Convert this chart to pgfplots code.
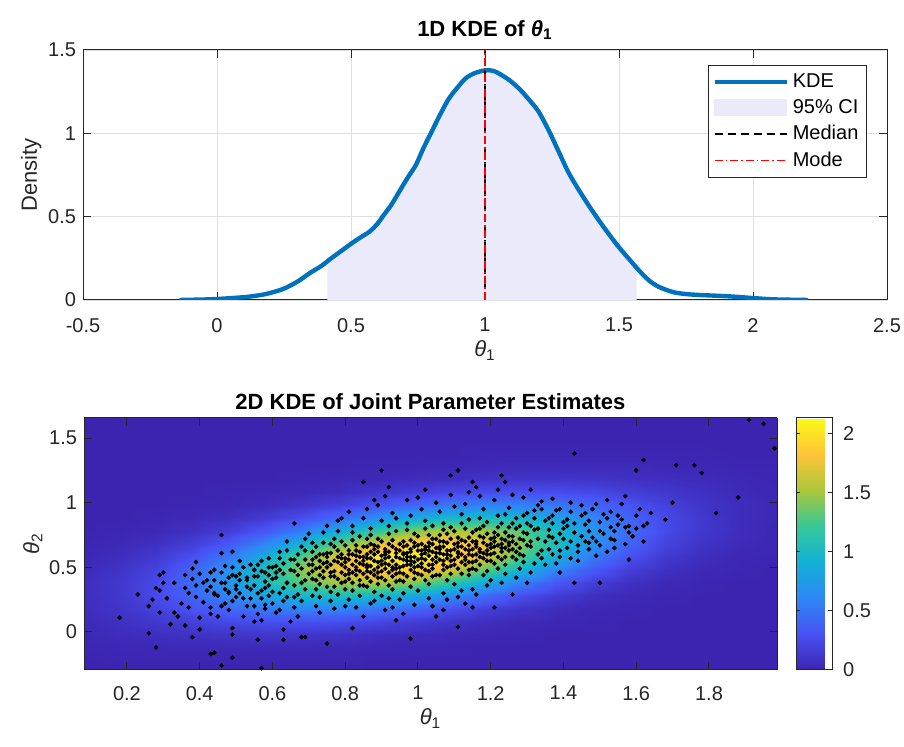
\documentclass[border=0pt]{standalone}
\usepackage{pgfplots}
\pgfplotsset{compat=1.18}
\usepackage{fontspec}
\setmainfont{Liberation Sans}
\definecolor{axgray}{RGB}{38,38,38}
\definecolor{kdeblue}{RGB}{0,114,189}
\definecolor{cifill}{RGB}{234,234,250}
\definecolor{gridgray}{RGB}{223,223,223}
\pgfplotsset{
  every axis/.append style={
    /pgf/number format/assume math mode=true,
    tick label style={font=\fontsize{10}{12}\selectfont, color=axgray},
    label style={font=\fontsize{11}{13}\selectfont, color=axgray},
    title style={font=\fontsize{11}{13}\selectfont\bfseries},
    axis line style={axgray, line width=0.5pt},
    tick style={axgray, line width=0.5pt},
    major tick length=4pt,
    tick align=inside,
  }
}
\begin{document}
\begin{tikzpicture}
\path[use as bounding box] (0,0) rectangle (452pt,373.5pt);
% ---------------- top: 1D KDE ----------------
\begin{axis}[
  at={(41.5pt,223.5pt)}, anchor=south west,
  width=402pt, height=125pt, scale only axis,
  xmin=-0.5, xmax=2.5, ymin=0, ymax=1.5,
  xtick={-0.5,0,0.5,1,1.5,2,2.5}, ytick={0,0.5,1,1.5},
  xticklabel style={yshift=-5.5pt},
  xlabel style={yshift=2.5pt},
  ylabel style={yshift=-3.5pt},
  title style={yshift=-4.5pt},
  xmajorgrids, ymajorgrids, grid style={gridgray, line width=0.4pt},
  title={1D KDE of \textit{θ}\textsubscript{1}},
  xlabel={\textit{θ}\textsubscript{1}}, ylabel={Density},
  legend style={at={(0.975,0.94)}, anchor=north east, draw=axgray, line width=0.5pt,
    font=\fontsize{10}{12}\selectfont, inner sep=2pt, row sep=0.5pt},
  legend cell align=left,
  legend image code/.code={\draw[#1] (0pt,0pt) -- (36pt,0pt);},
]
\addplot[fill=cifill, draw=none, forget plot] coordinates {
(0.412,0) (0.412,0.232) (0.426,0.25) (0.46,0.29) (0.494,0.33) (0.53,0.37) (0.569,0.41)
(0.60,0.46) (0.618,0.50) (0.65,0.57) (0.68,0.65) (0.71,0.73) (0.742,0.81) (0.77,0.91)
(0.804,1.02) (0.835,1.12) (0.866,1.21) (0.90,1.28) (0.928,1.33) (0.96,1.36) (1.00,1.378)
(1.03,1.375) (1.051,1.36) (1.09,1.32) (1.126,1.27) (1.16,1.21) (1.20,1.13) (1.24,1.01)
(1.275,0.89) (1.31,0.77) (1.35,0.66) (1.39,0.56) (1.424,0.48) (1.46,0.40) (1.498,0.32)
(1.535,0.25) (1.566,0.193) (1.566,0)} \closedcycle;
\addplot[kdeblue, line width=2.2pt, smooth] coordinates {
(-0.14,0.000) (-0.05,0.003) (0.00,0.006) (0.06,0.012) (0.12,0.020) (0.18,0.035)
(0.245,0.065) (0.30,0.11) (0.345,0.16) (0.39,0.205) (0.426,0.25) (0.46,0.29)
(0.494,0.33) (0.53,0.37) (0.569,0.41) (0.60,0.46) (0.618,0.50) (0.65,0.57) (0.68,0.65)
(0.71,0.73) (0.742,0.81) (0.77,0.91) (0.804,1.02) (0.835,1.12) (0.866,1.21) (0.90,1.28)
(0.928,1.33) (0.96,1.36) (1.00,1.378) (1.03,1.375) (1.051,1.36) (1.09,1.32) (1.126,1.27)
(1.16,1.21) (1.20,1.13) (1.24,1.01) (1.275,0.89) (1.31,0.77) (1.35,0.66) (1.39,0.56)
(1.424,0.48) (1.46,0.40) (1.498,0.32) (1.535,0.25) (1.573,0.18) (1.61,0.12) (1.647,0.08)
(1.70,0.048) (1.747,0.036) (1.80,0.030) (1.871,0.025) (1.93,0.020) (1.995,0.012)
(2.05,0.006) (2.094,0.003) (2.206,0.000)};
\addlegendentry{KDE}
\addlegendimage{legend image code/.code={\fill[cifill] (0pt,-4pt) rectangle (36pt,4pt);}}
\addlegendentry{95\% CI}
\addplot[black, line width=0.6pt, dash pattern=on 4pt off 2.5pt] coordinates {(1.0,0) (1.0,1.5)};
\addlegendentry{Median}
\addplot[red, line width=0.6pt, dash pattern=on 4pt off 1.5pt on 0.8pt off 1.5pt] coordinates {(1.0,0) (1.0,1.5)};
\addlegendentry{Mode}
\end{axis}
% ---------------- bottom: 2D KDE ----------------
\begin{axis}[
  at={(42pt,38.5pt)}, anchor=south west,
  width=346.5pt, height=126pt, scale only axis,
  view={0}{90},
  xmin=0.082, xmax=1.987, ymin=-0.294, ymax=1.655, zmin=0, zmax=3,
  xtick={0.2,0.4,0.6,0.8,1,1.2,1.4,1.6,1.8}, ytick={0,0.5,1,1.5}, ztick=\empty,
  xticklabel style={yshift=-4.5pt},
  xlabel style={yshift=2.5pt},
  ylabel style={yshift=-3.5pt},
  title style={yshift=-5.5pt},
  title={2D KDE of Joint Parameter Estimates},
  xlabel={\textit{θ}\textsubscript{1}}, ylabel={\textit{θ}\textsubscript{2}},
  colormap={parula}{rgb255=(60,36,176) rgb255=(72,82,244) rgb255=(46,135,247)
    rgb255=(18,177,214) rgb255=(55,200,151) rgb255=(171,199,57) rgb255=(254,195,56)
    rgb255=(249,251,21)},
  point meta min=0, point meta max=2.13,
  colorbar,
  colorbar style={at={(parent axis.north east)}, anchor=north west, xshift=1pt,
    width=18pt, ytick={0,0.5,1,1.5,2}, major tick length=2pt,
    yticklabel style={font=\fontsize{10}{12}\selectfont, color=axgray, xshift=2pt},
    /pgf/number format/assume math mode=true},
]
\addplot3[surf, shader=interp, mesh/cols=21, mesh/ordering=x varies] coordinates {
(0.08,-0.32,0) (0.18,-0.32,0) (0.28,-0.32,0) (0.38,-0.32,0) (0.48,-0.32,0) (0.58,-0.32,0) (0.68,-0.32,0) (0.78,-0.32,0) (0.88,-0.32,0) (0.98,-0.32,0) (1.08,-0.32,0) (1.18,-0.32,0) (1.28,-0.32,0) (1.38,-0.32,0) (1.48,-0.32,0) (1.58,-0.32,0) (1.68,-0.32,0) (1.78,-0.32,0) (1.88,-0.32,0) (1.98,-0.32,0) (2.08,-0.32,0)
(0.08,-0.22,0) (0.18,-0.22,0.01) (0.28,-0.22,0.01) (0.38,-0.22,0.01) (0.48,-0.22,0.01) (0.58,-0.22,0.01) (0.68,-0.22,0.01) (0.78,-0.22,0.01) (0.88,-0.22,0) (0.98,-0.22,0) (1.08,-0.22,0) (1.18,-0.22,0) (1.28,-0.22,0) (1.38,-0.22,0) (1.48,-0.22,0) (1.58,-0.22,0) (1.68,-0.22,0) (1.78,-0.22,0) (1.88,-0.22,0) (1.98,-0.22,0) (2.08,-0.22,0)
(0.08,-0.12,0.01) (0.18,-0.12,0.02) (0.28,-0.12,0.03) (0.38,-0.12,0.04) (0.48,-0.12,0.04) (0.58,-0.12,0.04) (0.68,-0.12,0.04) (0.78,-0.12,0.03) (0.88,-0.12,0.02) (0.98,-0.12,0.01) (1.08,-0.12,0.01) (1.18,-0.12,0) (1.28,-0.12,0) (1.38,-0.12,0) (1.48,-0.12,0) (1.58,-0.12,0) (1.68,-0.12,0) (1.78,-0.12,0) (1.88,-0.12,0) (1.98,-0.12,0) (2.08,-0.12,0)
(0.08,-0.02,0.03) (0.18,-0.02,0.05) (0.28,-0.02,0.07) (0.38,-0.02,0.09) (0.48,-0.02,0.11) (0.58,-0.02,0.12) (0.68,-0.02,0.11) (0.78,-0.02,0.10) (0.88,-0.02,0.07) (0.98,-0.02,0.05) (1.08,-0.02,0.03) (1.18,-0.02,0.02) (1.28,-0.02,0.01) (1.38,-0.02,0) (1.48,-0.02,0) (1.58,-0.02,0) (1.68,-0.02,0) (1.78,-0.02,0) (1.88,-0.02,0) (1.98,-0.02,0) (2.08,-0.02,0)
(0.08,0.08,0.04) (0.18,0.08,0.08) (0.28,0.08,0.13) (0.38,0.08,0.18) (0.48,0.08,0.24) (0.58,0.08,0.27) (0.68,0.08,0.28) (0.78,0.08,0.26) (0.88,0.08,0.22) (0.98,0.08,0.16) (1.08,0.08,0.11) (1.18,0.08,0.06) (1.28,0.08,0.03) (1.38,0.08,0.02) (1.48,0.08,0.01) (1.58,0.08,0) (1.68,0.08,0) (1.78,0.08,0) (1.88,0.08,0) (1.98,0.08,0) (2.08,0.08,0)
(0.08,0.18,0.06) (0.18,0.18,0.11) (0.28,0.18,0.20) (0.38,0.18,0.31) (0.48,0.18,0.42) (0.58,0.18,0.52) (0.68,0.18,0.58) (0.78,0.18,0.58) (0.88,0.18,0.51) (0.98,0.18,0.41) (1.08,0.18,0.29) (1.18,0.18,0.18) (1.28,0.18,0.11) (1.38,0.18,0.05) (1.48,0.18,0.02) (1.58,0.18,0.01) (1.68,0.18,0) (1.78,0.18,0) (1.88,0.18,0) (1.98,0.18,0) (2.08,0.18,0)
(0.08,0.28,0.06) (0.18,0.28,0.13) (0.28,0.28,0.25) (0.38,0.28,0.41) (0.48,0.28,0.61) (0.58,0.28,0.81) (0.68,0.28,0.97) (0.78,0.28,1.03) (0.88,0.28,0.98) (0.98,0.28,0.84) (1.08,0.28,0.64) (1.18,0.28,0.44) (1.28,0.28,0.27) (1.38,0.28,0.15) (1.48,0.28,0.07) (1.58,0.28,0.03) (1.68,0.28,0.01) (1.78,0.28,0) (1.88,0.28,0) (1.98,0.28,0) (2.08,0.28,0)
(0.08,0.38,0.06) (0.18,0.38,0.13) (0.28,0.38,0.25) (0.38,0.38,0.45) (0.48,0.38,0.72) (0.58,0.38,1.03) (0.68,0.38,1.31) (0.78,0.38,1.50) (0.88,0.38,1.54) (0.98,0.38,1.41) (1.08,0.38,1.15) (1.18,0.38,0.85) (1.28,0.38,0.56) (1.38,0.38,0.33) (1.48,0.38,0.17) (1.58,0.38,0.08) (1.68,0.38,0.03) (1.78,0.38,0.01) (1.88,0.38,0) (1.98,0.38,0) (2.08,0.38,0)
(0.08,0.48,0.04) (0.18,0.48,0.10) (0.28,0.48,0.21) (0.38,0.48,0.40) (0.48,0.48,0.69) (0.58,0.48,1.05) (0.68,0.48,1.44) (0.78,0.48,1.77) (0.88,0.48,1.95) (0.98,0.48,1.92) (1.08,0.48,1.69) (1.18,0.48,1.33) (1.28,0.48,0.94) (1.38,0.48,0.59) (1.48,0.48,0.34) (1.58,0.48,0.17) (1.68,0.48,0.08) (1.78,0.48,0.03) (1.88,0.48,0.01) (1.98,0.48,0) (2.08,0.48,0)
(0.08,0.58,0.02) (0.18,0.58,0.06) (0.28,0.58,0.14) (0.38,0.58,0.29) (0.48,0.58,0.53) (0.58,0.58,0.88) (0.68,0.58,1.29) (0.78,0.58,1.71) (0.88,0.58,2.02) (0.98,0.58,2.13) (1.08,0.58,2.02) (1.18,0.58,1.71) (1.28,0.58,1.29) (1.38,0.58,0.88) (1.48,0.58,0.53) (1.58,0.58,0.29) (1.68,0.58,0.14) (1.78,0.58,0.06) (1.88,0.58,0.02) (1.98,0.58,0.01) (2.08,0.58,0)
(0.08,0.68,0.01) (0.18,0.68,0.03) (0.28,0.68,0.08) (0.38,0.68,0.17) (0.48,0.68,0.34) (0.58,0.68,0.59) (0.68,0.68,0.94) (0.78,0.68,1.33) (0.88,0.68,1.69) (0.98,0.68,1.92) (1.08,0.68,1.95) (1.18,0.68,1.77) (1.28,0.68,1.44) (1.38,0.68,1.05) (1.48,0.68,0.69) (1.58,0.68,0.40) (1.68,0.68,0.21) (1.78,0.68,0.10) (1.88,0.68,0.04) (1.98,0.68,0.02) (2.08,0.68,0.01)
(0.08,0.78,0) (0.18,0.78,0.01) (0.28,0.78,0.03) (0.38,0.78,0.08) (0.48,0.78,0.17) (0.58,0.78,0.33) (0.68,0.78,0.56) (0.78,0.78,0.85) (0.88,0.78,1.15) (0.98,0.78,1.41) (1.08,0.78,1.54) (1.18,0.78,1.50) (1.28,0.78,1.31) (1.38,0.78,1.03) (1.48,0.78,0.72) (1.58,0.78,0.45) (1.68,0.78,0.25) (1.78,0.78,0.13) (1.88,0.78,0.06) (1.98,0.78,0.02) (2.08,0.78,0.01)
(0.08,0.88,0) (0.18,0.88,0) (0.28,0.88,0.01) (0.38,0.88,0.03) (0.48,0.88,0.07) (0.58,0.88,0.15) (0.68,0.88,0.27) (0.78,0.88,0.44) (0.88,0.88,0.64) (0.98,0.88,0.84) (1.08,0.88,0.98) (1.18,0.88,1.03) (1.28,0.88,0.97) (1.38,0.88,0.81) (1.48,0.88,0.61) (1.58,0.88,0.41) (1.68,0.88,0.25) (1.78,0.88,0.13) (1.88,0.88,0.06) (1.98,0.88,0.03) (2.08,0.88,0.01)
(0.08,0.98,0) (0.18,0.98,0) (0.28,0.98,0) (0.38,0.98,0.01) (0.48,0.98,0.02) (0.58,0.98,0.05) (0.68,0.98,0.11) (0.78,0.98,0.18) (0.88,0.98,0.29) (0.98,0.98,0.41) (1.08,0.98,0.51) (1.18,0.98,0.58) (1.28,0.98,0.58) (1.38,0.98,0.52) (1.48,0.98,0.42) (1.58,0.98,0.31) (1.68,0.98,0.20) (1.78,0.98,0.11) (1.88,0.98,0.06) (1.98,0.98,0.03) (2.08,0.98,0.01)
(0.08,1.08,0) (0.18,1.08,0) (0.28,1.08,0) (0.38,1.08,0) (0.48,1.08,0.01) (0.58,1.08,0.02) (0.68,1.08,0.03) (0.78,1.08,0.06) (0.88,1.08,0.11) (0.98,1.08,0.16) (1.08,1.08,0.22) (1.18,1.08,0.26) (1.28,1.08,0.28) (1.38,1.08,0.27) (1.48,1.08,0.24) (1.58,1.08,0.18) (1.68,1.08,0.13) (1.78,1.08,0.08) (1.88,1.08,0.04) (1.98,1.08,0.02) (2.08,1.08,0.01)
(0.08,1.18,0) (0.18,1.18,0) (0.28,1.18,0) (0.38,1.18,0) (0.48,1.18,0) (0.58,1.18,0) (0.68,1.18,0.01) (0.78,1.18,0.02) (0.88,1.18,0.03) (0.98,1.18,0.05) (1.08,1.18,0.07) (1.18,1.18,0.10) (1.28,1.18,0.11) (1.38,1.18,0.12) (1.48,1.18,0.11) (1.58,1.18,0.09) (1.68,1.18,0.07) (1.78,1.18,0.05) (1.88,1.18,0.03) (1.98,1.18,0.01) (2.08,1.18,0.01)
(0.08,1.28,0) (0.18,1.28,0) (0.28,1.28,0) (0.38,1.28,0) (0.48,1.28,0) (0.58,1.28,0) (0.68,1.28,0) (0.78,1.28,0) (0.88,1.28,0.01) (0.98,1.28,0.01) (1.08,1.28,0.02) (1.18,1.28,0.03) (1.28,1.28,0.04) (1.38,1.28,0.04) (1.48,1.28,0.04) (1.58,1.28,0.04) (1.68,1.28,0.03) (1.78,1.28,0.02) (1.88,1.28,0.01) (1.98,1.28,0.01) (2.08,1.28,0)
(0.08,1.38,0) (0.18,1.38,0) (0.28,1.38,0) (0.38,1.38,0) (0.48,1.38,0) (0.58,1.38,0) (0.68,1.38,0) (0.78,1.38,0) (0.88,1.38,0) (0.98,1.38,0) (1.08,1.38,0) (1.18,1.38,0.01) (1.28,1.38,0.01) (1.38,1.38,0.01) (1.48,1.38,0.01) (1.58,1.38,0.01) (1.68,1.38,0.01) (1.78,1.38,0.01) (1.88,1.38,0) (1.98,1.38,0) (2.08,1.38,0)
(0.08,1.48,0) (0.18,1.48,0) (0.28,1.48,0) (0.38,1.48,0) (0.48,1.48,0) (0.58,1.48,0) (0.68,1.48,0) (0.78,1.48,0) (0.88,1.48,0) (0.98,1.48,0) (1.08,1.48,0) (1.18,1.48,0) (1.28,1.48,0) (1.38,1.48,0) (1.48,1.48,0) (1.58,1.48,0) (1.68,1.48,0) (1.78,1.48,0) (1.88,1.48,0) (1.98,1.48,0) (2.08,1.48,0)
(0.08,1.58,0) (0.18,1.58,0) (0.28,1.58,0) (0.38,1.58,0) (0.48,1.58,0) (0.58,1.58,0) (0.68,1.58,0) (0.78,1.58,0) (0.88,1.58,0) (0.98,1.58,0) (1.08,1.58,0) (1.18,1.58,0) (1.28,1.58,0) (1.38,1.58,0) (1.48,1.58,0) (1.58,1.58,0) (1.68,1.58,0) (1.78,1.58,0) (1.88,1.58,0) (1.98,1.58,0) (2.08,1.58,0)
(0.08,1.68,0) (0.18,1.68,0) (0.28,1.68,0) (0.38,1.68,0) (0.48,1.68,0) (0.58,1.68,0) (0.68,1.68,0) (0.78,1.68,0) (0.88,1.68,0) (0.98,1.68,0) (1.08,1.68,0) (1.18,1.68,0) (1.28,1.68,0) (1.38,1.68,0) (1.48,1.68,0) (1.58,1.68,0) (1.68,1.68,0) (1.78,1.68,0) (1.88,1.68,0) (1.98,1.68,0) (2.08,1.68,0)
};
\addplot[only marks, mark=*, mark size=0.95pt, black] coordinates {
(0.76,0.52) (0.78,0.41) (0.81,0.63) (0.77,0.35) (0.83,0.55) (0.79,0.70) (0.84,0.47) (0.75,0.58) (0.82,0.38) (0.80,0.50) (0.85,0.66) (0.78,0.29) (0.76,0.61) (0.83,0.44) (0.81,0.56) (0.84,0.74) (0.77,0.47) (0.79,0.60) (0.82,0.32) (0.85,0.52) (0.76,0.43) (0.80,0.67) (0.83,0.59) (0.78,0.54) (0.81,0.45) (0.84,0.36) (0.77,0.66) (0.80,0.39) (0.82,0.71) (0.75,0.50) (0.79,0.46) (0.84,0.62) (0.86,0.42) (0.81,0.25) (0.78,0.78) (0.83,0.50)
(0.86,0.57) (0.88,0.48) (0.91,0.64) (0.87,0.39) (0.93,0.55) (0.89,0.72) (0.94,0.45) (0.86,0.66) (0.92,0.36) (0.90,0.59) (0.95,0.68) (0.88,0.31) (0.87,0.51) (0.93,0.43) (0.91,0.53) (0.94,0.78) (0.89,0.42) (0.86,0.47) (0.92,0.62) (0.95,0.50) (0.88,0.60) (0.90,0.47) (0.93,0.71) (0.87,0.75) (0.91,0.40) (0.94,0.58) (0.89,0.54) (0.86,0.35) (0.92,0.82) (0.90,0.28) (0.95,0.40) (0.88,0.67) (0.91,0.49) (0.94,0.64) (0.87,0.57) (0.93,0.33) (0.89,0.62) (0.92,0.52) (0.90,0.70) (0.86,0.52)
(0.96,0.61) (0.98,0.52) (1.01,0.68) (0.97,0.43) (1.03,0.59) (0.99,0.76) (1.04,0.49) (0.96,0.70) (1.02,0.40) (1.00,0.63) (1.05,0.72) (0.98,0.35) (0.97,0.55) (1.03,0.47) (1.01,0.57) (1.04,0.82) (0.99,0.46) (0.96,0.51) (1.02,0.66) (1.05,0.54) (0.98,0.64) (1.00,0.51) (1.03,0.75) (0.97,0.79) (1.01,0.44) (1.04,0.62) (0.99,0.58) (0.96,0.39) (1.02,0.86) (1.00,0.32) (1.05,0.44) (0.98,0.71) (1.01,0.53) (1.04,0.68) (0.97,0.61) (1.03,0.37) (0.99,0.66) (1.02,0.56) (1.00,0.74) (0.96,0.56) (0.98,0.48) (1.03,0.63)
(1.06,0.66) (1.08,0.57) (1.11,0.73) (1.07,0.48) (1.13,0.64) (1.09,0.81) (1.14,0.54) (1.06,0.75) (1.12,0.45) (1.10,0.68) (1.15,0.77) (1.08,0.40) (1.07,0.60) (1.13,0.52) (1.11,0.62) (1.14,0.87) (1.09,0.51) (1.06,0.56) (1.12,0.71) (1.15,0.59) (1.08,0.69) (1.10,0.56) (1.13,0.80) (1.07,0.84) (1.11,0.49) (1.14,0.67) (1.09,0.63) (1.06,0.44) (1.12,0.91) (1.10,0.37) (1.15,0.49) (1.08,0.76) (1.11,0.58) (1.14,0.73) (1.07,0.66)
(1.16,0.70) (1.18,0.61) (1.21,0.77) (1.17,0.52) (1.23,0.68) (1.19,0.85) (1.24,0.58) (1.16,0.79) (1.22,0.49) (1.20,0.72) (1.25,0.81) (1.18,0.44) (1.17,0.64) (1.23,0.56) (1.21,0.66) (1.24,0.91) (1.19,0.55) (1.16,0.60) (1.22,0.75) (1.25,0.63) (1.18,0.73) (1.20,0.60) (1.23,0.84) (1.17,0.88) (1.21,0.53) (1.24,0.71) (1.19,0.67) (1.16,0.48)
(0.66,0.47) (0.68,0.38) (0.71,0.56) (0.67,0.29) (0.73,0.50) (0.69,0.63) (0.74,0.42) (0.66,0.56) (0.72,0.33) (0.70,0.45) (0.75,0.61) (0.68,0.24) (0.67,0.52) (0.73,0.37) (0.71,0.47) (0.74,0.69) (0.69,0.40) (0.66,0.36) (0.72,0.58) (0.70,0.52) (0.68,0.49) (0.73,0.27) (0.71,0.41) (0.74,0.53)
(0.56,0.43) (0.58,0.34) (0.61,0.51) (0.57,0.26) (0.63,0.45) (0.59,0.57) (0.64,0.38) (0.56,0.52) (0.62,0.30) (0.60,0.41) (0.65,0.56) (0.58,0.21) (0.57,0.47) (0.63,0.34) (0.61,0.42) (0.64,0.63) (0.59,0.36) (0.62,0.48)
(0.46,0.38) (0.48,0.30) (0.51,0.45) (0.47,0.22) (0.53,0.40) (0.49,0.50) (0.54,0.33) (0.46,0.46) (0.52,0.26) (0.50,0.36) (0.55,0.48) (0.48,0.17) (0.53,0.42) (0.51,0.30)
(0.36,0.34) (0.39,0.27) (0.42,0.40) (0.37,0.19) (0.43,0.35) (0.40,0.45) (0.44,0.29) (0.38,0.41)
(1.26,0.74) (1.28,0.65) (1.31,0.82) (1.27,0.56) (1.33,0.72) (1.29,0.90) (1.34,0.63) (1.26,0.84) (1.32,0.53) (1.30,0.76) (1.35,0.86) (1.28,0.49) (1.27,0.68) (1.33,0.60) (1.31,0.70) (1.34,0.95) (1.29,0.59) (1.26,0.64) (1.32,0.79) (1.30,0.67)
(1.36,0.79) (1.38,0.69) (1.41,0.87) (1.37,0.60) (1.43,0.77) (1.39,0.95) (1.44,0.67) (1.36,0.88) (1.42,0.57) (1.40,0.80) (1.45,0.90) (1.38,0.53) (1.37,0.73) (1.43,0.84) (1.41,0.65)
(1.46,0.83) (1.48,0.73) (1.51,0.91) (1.47,0.64) (1.53,0.81) (1.49,0.99) (1.54,0.71) (1.46,0.92) (1.52,0.62) (1.50,0.85)
(1.56,0.87) (1.58,0.77) (1.61,0.95) (1.57,0.68) (1.63,0.84)
(1.91,1.64) (1.95,1.61) (1.98,1.42) (1.88,1.04) (1.82,0.92) (1.68,0.87) (1.71,1.29) (1.76,1.29) (1.78,1.23) (1.62,1.33) (1.60,1.25) (1.70,1.00) (1.62,0.70) (1.58,0.56) (1.43,0.38) (1.39,0.46) (1.50,0.38) (1.43,1.38)
(0.08,0.15) (0.18,0.11) (0.23,0.29) (0.27,0.25) (0.29,0.44) (0.30,0.46) (0.29,0.32) (0.29,0.15) (0.26,-0.01) (0.28,-0.12) (0.33,0.15) (0.36,0.44) (0.39,0.54) (0.38,-0.04) (0.40,0.02) (0.43,0.19) (0.43,0.14) (0.44,-0.16) (0.43,-0.17) (0.46,0.61) (0.49,0.62) (0.49,-0.20) (0.46,-0.26) (0.57,-0.28) (0.49,0.03) (0.49,-0.02) (0.56,-0.06) (0.63,-0.06) (0.68,-0.04) (0.63,0.02) (0.56,0.14) (0.55,0.08) (0.41,0.38) (0.44,0.30) (0.47,0.38) (0.50,0.43) (0.55,0.48) (0.57,0.32) (0.59,0.50) (0.60,0.31) (0.64,0.38) (0.66,0.27) (0.62,0.17) (0.58,0.18) (0.55,0.20) (0.50,0.27) (0.48,0.31) (0.66,0.84) (0.71,0.69) (0.46,0.75)
(0.90,1.25) (0.85,1.16) (0.92,1.12) (1.09,1.21) (1.11,1.25) (1.15,1.16) (1.23,1.21) (1.24,1.16) (1.31,1.10) (1.22,1.10) (0.94,0.09) (0.82,0.03) (0.98,-0.05) (0.75,-0.09) (0.69,-0.04) (1.07,0.17) (1.15,0.19) (1.21,0.19) (1.26,0.29) (1.30,0.38) (1.11,0.04)
(0.72,0.49) (0.74,0.60) (0.77,0.55) (0.79,0.38) (0.81,0.48) (0.83,0.67) (0.85,0.45) (0.87,0.62) (0.89,0.50) (0.91,0.57) (0.93,0.48) (0.95,0.63) (0.97,0.52) (0.99,0.69) (1.01,0.60) (1.03,0.52) (1.05,0.65) (1.07,0.55) (1.09,0.72) (1.11,0.66) (1.13,0.58) (1.15,0.70) (1.17,0.62) (1.19,0.76) (1.21,0.70) (1.23,0.62) (1.25,0.74) (1.27,0.80) (1.29,0.71)
(0.73,0.44) (0.75,0.35) (0.78,0.63) (0.80,0.57) (0.82,0.52) (0.84,0.40) (0.86,0.72) (0.88,0.55) (0.90,0.42) (0.92,0.68) (0.94,0.52) (0.96,0.45) (0.98,0.58) (1.00,0.67) (1.02,0.48) (1.04,0.72) (1.06,0.61) (1.08,0.50) (1.10,0.78) (1.12,0.60) (1.14,0.48) (1.16,0.66) (1.18,0.82) (1.20,0.55) (1.22,0.67) (1.24,0.77) (1.26,0.58) (1.28,0.72) (1.30,0.84)
(0.71,0.62) (0.73,0.55) (0.76,0.46) (0.78,0.58) (0.80,0.44) (0.82,0.60) (0.84,0.53) (0.86,0.60) (0.88,0.44) (0.90,0.52) (0.92,0.46) (0.94,0.61) (0.96,0.66) (0.98,0.55) (1.00,0.45) (1.02,0.61) (1.04,0.56) (1.06,0.70) (1.08,0.63) (1.10,0.52) (1.12,0.66) (1.14,0.60) (1.16,0.55) (1.18,0.69) (1.20,0.65) (1.22,0.58) (1.24,0.65) (1.26,0.70) (1.28,0.60)
(0.74,0.47) (0.76,0.68) (0.79,0.52) (0.81,0.41) (0.83,0.63) (0.85,0.58) (0.87,0.46) (0.89,0.66) (0.91,0.60) (0.93,0.50) (0.95,0.57) (0.97,0.67) (0.99,0.50) (1.01,0.63) (1.03,0.69) (1.05,0.58) (1.07,0.52) (1.09,0.59) (1.11,0.69) (1.13,0.56) (1.15,0.64) (1.17,0.74) (1.19,0.60) (1.21,0.61) (1.23,0.72) (1.25,0.67)
(0.61,0.15) (0.64,0.70) (0.67,0.12) (0.70,0.76) (0.72,0.20) (0.75,0.82) (0.77,0.18) (0.79,0.88) (0.62,0.62) (0.66,0.19) (0.69,0.72) (0.73,0.15) (0.76,0.24) (0.78,0.86) (0.63,0.24) (0.68,0.66) (0.71,0.28) (0.74,0.77) (0.80,0.20) (0.65,0.08)
(0.81,0.93) (0.83,0.19) (0.85,0.88) (0.87,0.22) (0.89,0.98) (0.91,0.17) (0.93,0.92) (0.95,0.25) (0.97,1.02) (0.99,0.21) (0.82,0.82) (0.84,0.28) (0.86,0.95) (0.88,0.24) (0.90,0.86) (0.92,0.26) (0.94,0.88) (0.96,0.30) (0.98,0.90) (0.85,0.12) (0.91,1.05) (0.96,0.14) (0.88,1.02) (0.93,0.19)
(1.01,0.95) (1.03,0.26) (1.05,1.00) (1.07,0.30) (1.09,1.06) (1.11,0.27) (1.13,0.99) (1.15,0.33) (1.17,1.05) (1.19,0.36) (1.02,1.10) (1.04,0.20) (1.06,0.93) (1.08,0.25) (1.10,0.97) (1.12,0.32) (1.14,1.08) (1.16,0.29) (1.18,0.95) (1.20,0.40) (1.05,0.12) (1.13,0.22) (1.00,1.04) (1.16,1.12)
(1.21,1.02) (1.23,0.38) (1.25,0.96) (1.27,0.42) (1.29,1.04) (1.31,0.46) (1.33,0.98) (1.35,0.52) (1.37,1.03) (1.39,0.58) (1.22,0.90) (1.26,1.06) (1.30,0.92) (1.34,1.01) (1.38,0.94) (1.42,1.00) (1.44,0.55) (1.40,0.72) (1.36,0.64) (1.32,0.88) (1.28,0.82) (1.24,0.45)
(1.46,0.70) (1.48,0.95) (1.50,0.67) (1.52,1.02) (1.54,0.78) (1.56,0.99) (1.58,0.82) (1.60,0.90) (1.47,0.86) (1.51,0.76) (1.55,0.90) (1.59,0.74) (1.62,0.82) (1.64,0.92) (1.49,0.59) (1.53,0.93) (1.57,1.05) (1.45,0.98)
(0.41,0.23) (0.43,0.46) (0.45,0.28) (0.47,0.51) (0.49,0.24) (0.51,0.55) (0.53,0.20) (0.55,0.36) (0.57,0.55) (0.59,0.28) (0.42,0.32) (0.44,0.48) (0.46,0.20) (0.48,0.42) (0.50,0.33) (0.52,0.50) (0.54,0.26) (0.56,0.30) (0.58,0.46) (0.60,0.22) (0.45,0.12) (0.52,0.12) (0.57,0.09) (0.40,0.11)
(0.26,0.20) (0.28,0.34) (0.31,0.26) (0.33,0.38) (0.35,0.22) (0.37,0.30) (0.39,0.36) (0.32,0.06) (0.34,0.12) (0.36,0.05) (0.30,0.38) (0.38,0.49)
(0.80,0.54) (0.82,0.46) (0.84,0.58) (0.86,0.50) (0.88,0.64) (0.90,0.55) (0.92,0.58) (0.94,0.49) (0.96,0.60) (0.98,0.62) (1.00,0.56) (1.02,0.64) (1.04,0.52) (1.06,0.64) (1.08,0.60) (1.10,0.64) (1.12,0.54) (1.14,0.63) (1.16,0.68) (1.18,0.57) (1.20,0.68)
(0.81,0.60) (0.83,0.48) (0.85,0.55) (0.87,0.68) (0.89,0.46) (0.91,0.62) (0.93,0.66) (0.95,0.46) (0.97,0.58) (0.99,0.54) (1.01,0.50) (1.03,0.66) (1.05,0.61) (1.07,0.70) (1.09,0.55) (1.11,0.61) (1.13,0.70) (1.15,0.54) (1.17,0.58) (1.19,0.63)
(0.79,0.57) (0.77,0.43) (0.75,0.54) (0.73,0.60) (0.71,0.52) (0.69,0.56) (0.67,0.44) (0.65,0.48) (0.63,0.53) (0.61,0.46) (1.21,0.73) (1.23,0.65) (1.25,0.69) (1.27,0.62) (1.29,0.77) (1.31,0.66) (1.33,0.80) (1.35,0.70) (1.37,0.84) (1.39,0.76)
(0.64,0.27) (0.69,0.33) (0.72,0.40) (0.76,0.31) (0.80,0.33) (0.85,0.36) (0.89,0.37) (0.94,0.39) (0.99,0.41) (1.04,0.43) (1.09,0.45) (1.14,0.44) (1.19,0.47) (1.24,0.52) (1.29,0.54) (1.34,0.57) (1.39,0.63) (1.44,0.62) (1.49,0.70) (1.54,0.65)
(0.62,0.57) (0.67,0.60) (0.72,0.66) (0.77,0.72) (0.82,0.77) (0.87,0.80) (0.92,0.76) (0.97,0.84) (1.02,0.80) (1.07,0.79) (1.12,0.84) (1.17,0.80) (1.22,0.81) (1.27,0.88) (1.32,0.94) (1.37,0.90) (1.42,0.93) (1.47,0.78) (1.52,0.88) (1.57,0.81)
(0.53,0.35) (0.55,0.43) (0.58,0.39) (0.60,0.50) (0.51,0.40) (0.54,0.52) (0.59,0.44) (0.47,0.33) (0.44,0.40) (0.49,0.44) (1.40,0.85) (1.45,0.74) (1.50,0.78) (1.53,0.72) (1.42,0.70) (1.36,0.74) (1.47,0.69) (1.55,0.83) (1.60,0.80) (1.41,0.82)
};
\end{axis}
\end{tikzpicture}
\end{document}
